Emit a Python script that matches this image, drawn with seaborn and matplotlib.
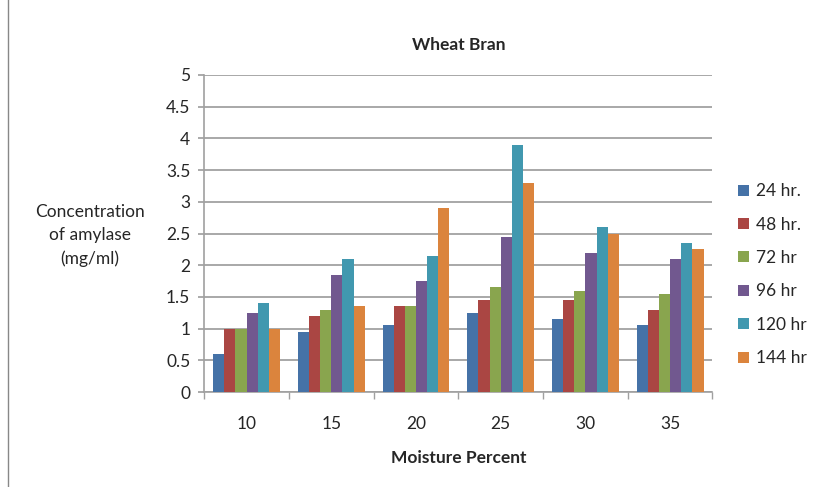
import numpy as np
import pandas as pd
import matplotlib
matplotlib.use('Agg')
import matplotlib.pyplot as plt
from matplotlib.patches import Rectangle
import seaborn as sns

# ── Data ───────────────────────────────────────────────────
moisture = ['10', '15', '20', '25', '30', '35']
series   = ['24 hr.', '48 hr.', '72 hr', '96 hr', '120 hr', '144 hr']
hr24  = [0.60, 0.95, 1.05, 1.25, 1.15, 1.05]
hr48  = [1.00, 1.20, 1.35, 1.45, 1.45, 1.30]
hr72  = [1.00, 1.30, 1.35, 1.65, 1.60, 1.55]
hr96  = [1.25, 1.85, 1.75, 2.45, 2.20, 2.10]
hr120 = [1.40, 2.10, 2.15, 3.90, 2.60, 2.35]
hr144 = [1.00, 1.35, 2.90, 3.30, 2.50, 2.25]

COLORS = ['#4572A7', '#AA4643', '#89A54E', '#71588F', '#4198AF', '#DB843D']
FS = 12.5

rows = []
for name, vals in zip(series, [hr24, hr48, hr72, hr96, hr120, hr144]):
    for m, v in zip(moisture, vals):
        rows.append({'Moisture': m, 'Time': name, 'Conc': v})
df = pd.DataFrame(rows)

sns.set_theme(style='white')
plt.rcParams['font.family'] = ['Lato', 'DejaVu Sans']

fig = plt.figure(figsize=(8.17, 4.87), dpi=100)
ax = fig.add_axes([0.250, 0.195, 0.622, 0.651])

sns.barplot(data=df, x='Moisture', y='Conc', hue='Time',
            order=moisture, hue_order=series, palette=COLORS,
            width=0.79, gap=0, saturation=1, errorbar=None,
            edgecolor='none', linewidth=0, ax=ax, zorder=3)

ax.set_ylim(0, 5)
ax.set_yticks(np.arange(0, 5.01, 0.5))
ax.set_yticklabels([f'{v:g}' for v in np.arange(0, 5.01, 0.5)], fontsize=FS)
ax.set_xlim(-0.5, len(moisture) - 0.5)
ax.tick_params(axis='x', length=0, labelsize=FS, pad=17)
ax.tick_params(axis='y', length=4, color='#a0a0a0', direction='out', pad=6, left=True)
ax.set_xticks(np.arange(-0.5, len(moisture), 1), minor=True)
ax.tick_params(axis='x', which='minor', length=5, color='#a0a0a0', direction='out', bottom=True)

ax.yaxis.grid(True, color='#9a9a9a', linewidth=1.2, zorder=0)
ax.set_axisbelow(True)
for side in ['top', 'right']:
    ax.spines[side].set_visible(False)
for side in ['left', 'bottom']:
    ax.spines[side].set_color('#a0a0a0')
    ax.spines[side].set_linewidth(1.2)

ax.set_xlabel('Moisture Percent', fontsize=FS, fontweight='bold', labelpad=13)
ax.set_ylabel('')
ax.set_title('Wheat Bran', fontsize=FS, fontweight='bold', pad=18)

fig.text(0.110, 0.517, 'Concentration\nof amylase\n(mg/ml)', ha='center', va='center',
         fontsize=FS, linespacing=1.55)

ax.legend(loc='center left', bbox_to_anchor=(1.02, 0.37), frameon=False,
          fontsize=FS, handlelength=0.6, handleheight=0.6, handletextpad=0.4,
          labelspacing=1.0)

# outer chart border
fig.patches.append(Rectangle((0.010, -0.01), 1.2, 1.2, transform=fig.transFigure,
                             fill=False, edgecolor='#888888', linewidth=1.0))

plt.savefig('out.png', dpi=100)
